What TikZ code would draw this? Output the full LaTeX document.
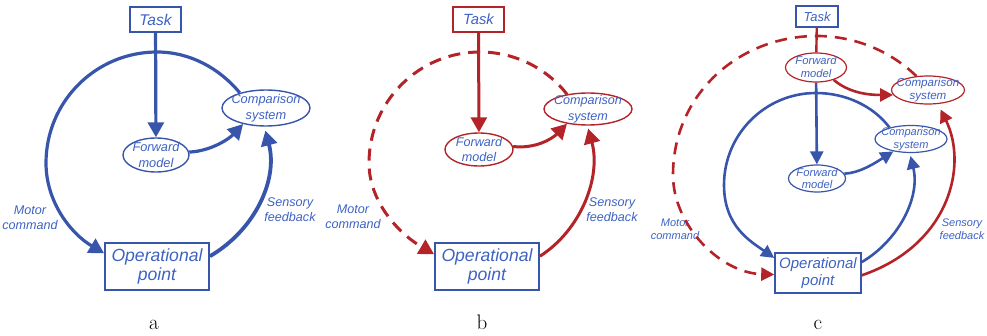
\documentclass[tikz,border=0pt]{standalone}
\usepackage{fontspec}
\newfontfamily\labelfont{Liberation Sans}
\usetikzlibrary{arrows.meta,shapes.geometric}

\definecolor{lineblue}{RGB}{55,85,170}
\definecolor{txtblue}{RGB}{62,98,195}
\definecolor{linered}{RGB}{180,35,40}

\tikzset{
  lbl/.style={text=txtblue, align=center, inner sep=0pt},
  fs/.style 2 args={font=\labelfont\itshape\fontsize{#1}{#2}\selectfont},
  box/.style={draw, rectangle, inner sep=0pt, line width=1.8pt, text=txtblue, align=center},
  ell/.style={draw, ellipse, inner sep=0pt, line width=1.4pt},
  bigarrow/.style={-{Triangle[length=15pt,width=16pt]}, line width=3.2pt},
  smallarrow/.style={-{Triangle[length=13pt,width=13pt]}, line width=2.6pt},
  dashline/.style={dash pattern=on 12pt off 8pt},
  caption/.style={font=\fontsize{21}{21}\selectfont, anchor=base, inner sep=0pt},
}

\begin{document}
\begin{tikzpicture}[x=1pt,y=1pt]
\useasboundingbox (0,0) rectangle (987,335);

% ---------------- (a) ----------------
\node[box, draw=lineblue, minimum width=51pt, minimum height=25pt, fs={15.5}{18}] (taskA) at (155.5,315.5) {Task};
\node[ell, draw=lineblue, minimum width=66pt, minimum height=34pt] (fmA) at (156,180) {};
\node[lbl, fs={12.8}{15.5}] (fmAt) at (fmA) {Forward\\model};
\node[ell, draw=lineblue, minimum width=88pt, minimum height=36pt] (cmpA) at (266,227) {};
\node[lbl, fs={12.8}{15.5}] (cmpAt) at (cmpA) {Comparison\\system};
\node[box, draw=lineblue, minimum width=104pt, minimum height=47pt, fs={17.6}{19}] (opA) at (157,68.5) {Operational\\point};
\node[lbl, fs={12.6}{15}] (motA) at (30,117.5) {Motor\\command};
\node[lbl, fs={12.6}{15}] (senA) at (290,125.5) {Sensory\\feedback};
\node[caption] (capA) at (154,6) {a};

\begin{scope}[draw=lineblue, color=lineblue]
\draw[bigarrow] (taskA) -- (fmA);
\draw[bigarrow] (fmA.5) .. controls (212,184) and (230,197) .. (cmpA.215);
\draw[bigarrow] (cmpA.150) .. controls (219.4,266.8) and (189.8,283) .. (157,283)
  .. controls (95.7,283) and (46,233.3) .. (46,172)
  .. controls (46,133.7) and (70,102) .. (opA.166);
\draw[bigarrow, line width=3.8pt, shorten >=4pt] (opA.11) .. controls (254.8,104.9) and (278.2,155.1) .. (cmpA.265);
\end{scope}

% ---------------- (b) ----------------
\node[box, draw=linered, minimum width=51pt, minimum height=25pt, fs={14.8}{17}] (taskB) at (478.5,315.5) {Task};
\node[ell, draw=linered, minimum width=68pt, minimum height=33pt] (fmB) at (479,185.5) {};
\node[lbl, fs={12.6}{15.5}] (fmBt) at (fmB) {Forward\\model};
\node[ell, draw=linered, minimum width=88pt, minimum height=32pt] (cmpB) at (588,226) {};
\node[lbl, fs={12.6}{15.5}] (cmpBt) at (cmpB) {Comparison\\system};
\node[box, draw=lineblue, minimum width=104pt, minimum height=47pt, fs={17.6}{19}] (opB) at (487,68.5) {Operational\\point};
\node[lbl, fs={12.6}{15}] (motB) at (353,118.5) {Motor\\command};
\node[lbl, fs={12.6}{15}] (senB) at (612,125.5) {Sensory\\feedback};
\node[caption] (capB) at (482,6) {b};

\begin{scope}[draw=linered, color=linered]
\draw[bigarrow, line width=3pt] (taskB) -- (fmB);
\draw[bigarrow, line width=3pt] (fmB.5) .. controls (535,186) and (552,196) .. (cmpB.215);
\draw[bigarrow, line width=3pt, dashline] (cmpB.145) .. controls (546.6,267.1) and (514.2,283) .. (480,283)
  .. controls (418.7,283) and (369,233.3) .. (369,172)
  .. controls (369,133.7) and (398,102) .. (opB.167);
\draw[bigarrow, line width=3pt, shorten >=3pt] (opB.11) .. controls (581.4,105.4) and (601.2,158.2) .. (cmpB.268);
\end{scope}

% ---------------- (c) ----------------
\node[box, draw=lineblue, line width=1.5pt, minimum width=42pt, minimum height=21pt, fs={13}{15}] (taskC) at (817,318.5) {Task};
\node[ell, draw=linered, line width=1.2pt, minimum width=61pt, minimum height=29pt] (fmR) at (816,267.5) {};
\node[lbl, fs={11.2}{13}] (fmRt) at (fmR) {Forward\\model};
\node[ell, draw=linered, line width=1.2pt, minimum width=73pt, minimum height=28pt] (cmpR) at (928,245) {};
\node[lbl, fs={11.6}{13}] (cmpRt) at (cmpR) {Comparison\\system};
\node[ell, draw=lineblue, line width=1.2pt, minimum width=57pt, minimum height=27pt] (fmC) at (817,156.5) {};
\node[lbl, fs={11.2}{12.5}] (fmCt) at (fmC) {Forward\\model};
\node[ell, draw=lineblue, line width=1.2pt, minimum width=72pt, minimum height=27pt] (cmpC) at (911,196) {};
\node[lbl, fs={11}{12.5}] (cmpCt) at (cmpC) {Comparison\\system};
\node[box, draw=lineblue, line width=1.6pt, minimum width=86pt, minimum height=40pt, fs={15}{17.5}] (opC) at (818,62) {Operational\\point};
\node[lbl, fs={11}{13}] (motC) at (675,105.5) {Motor\\command};
\node[lbl, fs={11}{13}] (senC) at (962,105.5) {Sensory\\feedback};
\node[caption] (capC) at (818,6) {c};

\begin{scope}[draw=linered, color=linered]
\draw[line width=2.4pt] (taskC) -- (fmR);
\draw[smallarrow] (fmR.-35) .. controls (848,243) and (866,240) .. (cmpR.188);
\draw[smallarrow, dashline] (cmpR.130) .. controls (890.1,284.3) and (854.3,299) .. (817,299)
  .. controls (738,299) and (673,240) .. (673,160)
  .. controls (673,110) and (720,62) .. (opC.182);
\draw[smallarrow, shorten >=6pt] (opC.-3) .. controls (950,90) and (968,170) .. (cmpR.305);
\end{scope}

\begin{scope}[draw=lineblue, color=lineblue]
\draw[smallarrow] (fmR) -- (fmC);
\draw[smallarrow] (fmC.10) .. controls (860,162) and (875,172) .. (cmpC.215);
\draw[smallarrow] (cmpC.152) .. controls (872.8,229.7) and (844.6,242) .. (816,242)
  .. controls (765.2,242) and (724,200.8) .. (724,150)
  .. controls (724,109) and (750,94) .. (opC.161);
\draw[smallarrow, shorten >=3pt] (opC.14) .. controls (898,94.2) and (920.5,137) .. (cmpC.265);
\end{scope}

\end{tikzpicture}
\end{document}
